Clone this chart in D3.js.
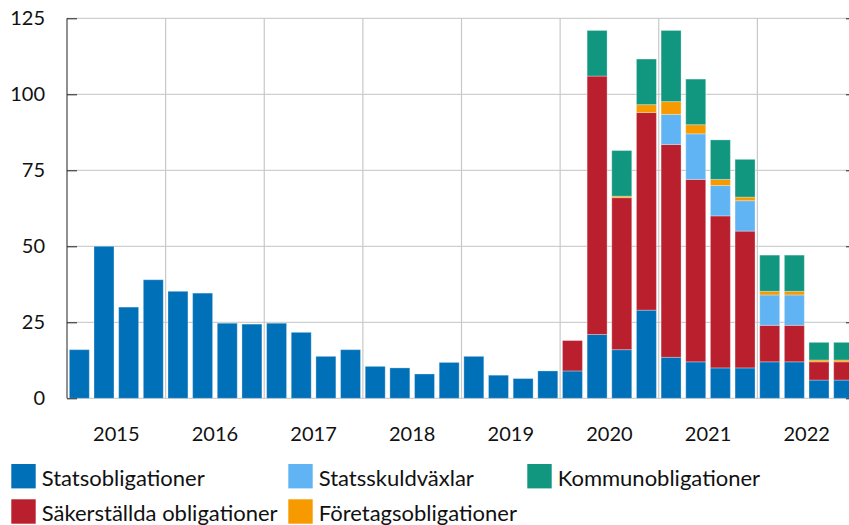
<!DOCTYPE html>
<html>
<head>
<meta charset="utf-8">
<script src="https://cdn.jsdelivr.net/npm/d3@7"></script>
<style>
  html, body { margin: 0; padding: 0; background: #fff; }
  svg { display: block; font-family: Lato, "Open Sans", sans-serif; }
</style>
</head>
<body>
<svg id="chart" width="849" height="525"></svg>
<script>
// ---- Data ----
const years = ["2015", "2016", "2017", "2018", "2019", "2020", "2021", "2022"];
const quarters = years.flatMap(y => ["K1", "K2", "K3", "K4"].map(q => y + " " + q));

const statsobligationer = [16, 50, 30, 39, 35.2, 34.6, 24.7, 24.4, 24.7, 21.7, 13.8, 16, 10.5, 10, 8, 11.8,
  13.8, 7.6, 6.5, 9, 9, 21, 16, 29, 13.5, 12, 10, 10, 12, 12, 6, 6];
const sakerstallda = [0, 0, 0, 0, 0, 0, 0, 0, 0, 0, 0, 0, 0, 0, 0, 0,
  0, 0, 0, 0, 10, 85, 50, 65, 70, 60, 50, 45, 12, 12, 6, 6];
const statsskuldvaxlar = [0, 0, 0, 0, 0, 0, 0, 0, 0, 0, 0, 0, 0, 0, 0, 0,
  0, 0, 0, 0, 0, 0, 0, 0, 9.9, 15, 10, 10, 10, 10, 0, 0];
const foretagsobligationer = [0, 0, 0, 0, 0, 0, 0, 0, 0, 0, 0, 0, 0, 0, 0, 0,
  0, 0, 0, 0, 0, 0, 0.5, 2.6, 4.2, 3, 2, 1.2, 1.2, 1.2, 0.6, 0.6];
const kommunobligationer = [0, 0, 0, 0, 0, 0, 0, 0, 0, 0, 0, 0, 0, 0, 0, 0,
  0, 0, 0, 0, 0, 15, 15, 15, 23.4, 15, 13, 12.4, 11.9, 11.9, 5.8, 5.8];

const yTicks = [0, 25, 50, 75, 100, 125];

const seriesKeys = ["Statsobligationer", "Säkerställda obligationer", "Statsskuldväxlar", "Företagsobligationer", "Kommunobligationer"];
const seriesValues = [statsobligationer, sakerstallda, statsskuldvaxlar, foretagsobligationer, kommunobligationer];
const colors = ["#0070b8", "#b91f2c", "#61b4f3", "#f69a00", "#11967f"];

const legendOrder = [
  { key: "Statsobligationer", col: 0, row: 0 },
  { key: "Statsskuldväxlar", col: 1, row: 0 },
  { key: "Kommunobligationer", col: 2, row: 0 },
  { key: "Säkerställda obligationer", col: 0, row: 1 },
  { key: "Företagsobligationer", col: 1, row: 1 }
];

(function () {
// ---- Build table ----
const table = quarters.map((q, i) => {
  const row = { q };
  seriesKeys.forEach((k, j) => row[k] = seriesValues[j][i]);
  return row;
});
const stacked = d3.stack().keys(seriesKeys)(table);
const color = d3.scaleOrdinal().domain(seriesKeys).range(colors);

// ---- Layout ----
const svg = d3.select("#chart");
const pL = 67, pR = 856, pT = 18.3, pB = 398.3;

const x = d3.scaleBand().domain(quarters).range([pL, pR]).paddingInner(0.19).paddingOuter(0.095);
const xYear = d3.scaleBand().domain(years).range([pL, pR]);
const y = d3.scaleLinear().domain([0, 125]).range([pB, pT]);

// horizontal gridlines
svg.append("g").selectAll("line").data(yTicks).join("line")
  .attr("x1", pL).attr("x2", pR)
  .attr("y1", d => y(d)).attr("y2", d => y(d))
  .attr("stroke", "#c4c4c4").attr("stroke-width", 1);

// vertical gridlines at year boundaries
svg.append("g").selectAll("line").data(years.slice(1)).join("line")
  .attr("x1", d => xYear(d)).attr("x2", d => xYear(d))
  .attr("y1", pT).attr("y2", pB)
  .attr("stroke", "#c8c8c8").attr("stroke-width", 1.2);

// bars
svg.append("g").selectAll("g").data(stacked).join("g")
  .attr("fill", d => color(d.key))
  .selectAll("rect").data(d => d.filter(p => p[1] - p[0] > 0)).join("rect")
  .attr("x", d => x(d.data.q))
  .attr("width", x.bandwidth())
  .attr("y", d => y(d[1]))
  .attr("height", d => y(d[0]) - y(d[1]))
  .attr("stroke", "rgba(255,255,255,0.3)")
  .attr("stroke-width", 1);

// left axis
const yAxisL = d3.axisLeft(y).tickValues(yTicks).tickSize(-10).tickPadding(22);
const gL = svg.append("g").attr("transform", `translate(${pL},0)`).call(yAxisL);
gL.select(".domain").attr("stroke", "#222").attr("d", `M0,${pT}V${pB}`);
gL.selectAll(".tick line").attr("stroke", "#222");
gL.selectAll(".tick text").attr("font-size", 20).attr("fill", "#111").attr("font-family", "Lato, sans-serif");

// right axis (ticks only visible)
const yAxisR = d3.axisRight(y).tickValues(yTicks).tickSize(-10).tickFormat("");
const gR = svg.append("g").attr("transform", `translate(${pR},0)`).call(yAxisR);
gR.select(".domain").attr("stroke", "#222").attr("d", `M0,${pT}V${pB}`);
gR.selectAll(".tick line").attr("stroke", "#222");

// bottom axis labels (years)
const xAxis = d3.axisBottom(xYear).tickSize(0).tickPadding(29);
const gX = svg.append("g").attr("transform", `translate(0,${pB})`).call(xAxis);
gX.select(".domain").remove();
gX.selectAll(".tick text").attr("font-size", 20).attr("fill", "#111").attr("font-family", "Lato, sans-serif");

// legend
const colX = [11.3, 288.3, 527.3];
const rowY = [464, 499.3];
const lg = svg.append("g").selectAll("g").data(legendOrder).join("g")
  .attr("transform", d => `translate(${colX[d.col]},${rowY[d.row]})`);
lg.append("rect").attr("width", 24.4).attr("height", 24.4).attr("fill", d => color(d.key));
lg.append("text").attr("x", 30.4).attr("y", 21.5)
  .attr("font-size", 22).attr("fill", "#111").text(d => d.key);
})();
</script>
</body>
</html>
